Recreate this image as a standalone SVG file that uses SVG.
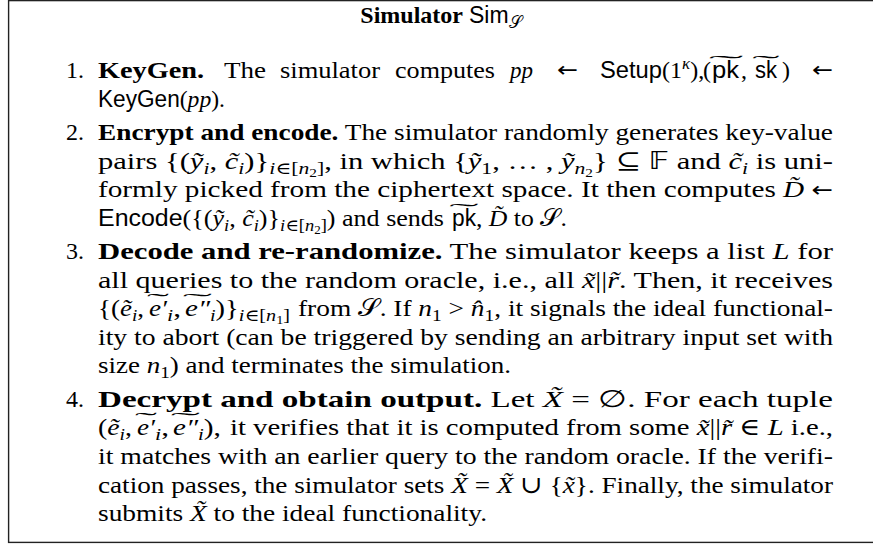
<svg xmlns="http://www.w3.org/2000/svg" width="873" height="544" viewBox="0 0 873 544">
<style>
text{font-family:"Liberation Serif","DejaVu Serif",serif;font-size:24px;fill:#000}
.b{font-weight:bold;font-family:"Liberation Serif",serif}
.i{font-style:italic}
.s{font-family:"Liberation Sans","DejaVu Sans",sans-serif;font-size:23px;font-style:normal}
.m{font-family:"DejaVu Sans","Noto Sans",sans-serif;font-style:normal}
.ar{font-family:"DejaVu Sans",sans-serif;font-size:21px;font-style:normal}
.sub{font-size:17px}
.ss{font-size:12px}
.tl{text-anchor:middle;font-size:20px}
.lb{text-anchor:end}
</style>
<rect id="frame" x="8.6" y="0.6" width="900" height="541.8" fill="#fff" stroke="#222" stroke-width="1.4"/>
<g id="title"><text x="441" y="23" text-anchor="middle"><tspan class="b">Simulator</tspan> <tspan class="s">Sim</tspan><tspan class="sub m" dy="5">𝒮</tspan></text></g>
<g id="item1">
<text class="lb" x="84" y="78">1.</text>
<text class="b" x="98" y="78" textLength="106" lengthAdjust="spacingAndGlyphs">KeyGen.</text>
<text x="224" y="78" textLength="42" lengthAdjust="spacingAndGlyphs">The</text>
<text x="280" y="78" textLength="100" lengthAdjust="spacingAndGlyphs">simulator</text>
<text x="395" y="78" textLength="100" lengthAdjust="spacingAndGlyphs">computes</text>
<text class="i" x="510" y="78" textLength="23" lengthAdjust="spacingAndGlyphs">pp</text>
<text class="ar" x="557" y="77" textLength="21" lengthAdjust="spacingAndGlyphs">←</text>
<text class="s" x="600" y="78" textLength="62" lengthAdjust="spacingAndGlyphs">Setup</text>
<text x="662" y="78">(1<tspan class="sub i" dy="-9">κ</tspan><tspan dy="9">),</tspan></text>
<text x="703" y="78">(</text>
<text class="s" x="712" y="78" textLength="27" lengthAdjust="spacingAndGlyphs">pk</text>
<text x="741" y="78">,</text>
<text class="s" x="755" y="78" textLength="22" lengthAdjust="spacingAndGlyphs">sk</text>
<text x="782" y="78">)</text>
<text class="ar" x="812" y="77" textLength="21" lengthAdjust="spacingAndGlyphs">←</text>
<text class="tl" transform="translate(726,70) scale(5.2,1)">˜</text>
<text class="tl" transform="translate(766,70) scale(4.1,1)">˜</text>
<text x="98" y="106.6" textLength="127" lengthAdjust="spacingAndGlyphs"><tspan class="s">KeyGen</tspan>(<tspan class="i">pp</tspan>).</text>
</g>
<g id="item2">
<text class="lb" x="84" y="139.9">2.</text>
<text x="98" y="139.9" textLength="735" lengthAdjust="spacingAndGlyphs"><tspan class="b">Encrypt and encode.</tspan> The simulator randomly generates key-value</text>
<text x="98" y="168.5" textLength="735" lengthAdjust="spacingAndGlyphs">pairs {(<tspan class="i">ỹ</tspan><tspan class="sub i" dy="5">i</tspan><tspan dy="-5">, </tspan><tspan class="i">c̃</tspan><tspan class="sub i" dy="5">i</tspan><tspan dy="-5">)}</tspan><tspan class="sub" dy="5"><tspan class="i">i</tspan>∈[<tspan class="i">n</tspan><tspan class="ss" dy="3">2</tspan><tspan dy="-3">]</tspan></tspan><tspan dy="-5">, in which {</tspan><tspan class="i">ỹ</tspan><tspan class="sub" dy="5">1</tspan><tspan dy="-5">, … , </tspan><tspan class="i">ỹ</tspan><tspan class="sub i" dy="5">n</tspan><tspan class="ss" dy="3">2</tspan><tspan dy="-8">} ⊆ </tspan><tspan class="m">𝔽</tspan> and <tspan class="i">c̃</tspan><tspan class="sub i" dy="5">i</tspan><tspan dy="-5"> is uni-</tspan></text>
<text x="98" y="197.1" textLength="735" lengthAdjust="spacingAndGlyphs">formly picked from the ciphertext space. It then computes <tspan class="i">D̃</tspan> <tspan class="ar">←</tspan></text>
<text x="98" y="225.7" textLength="346" lengthAdjust="spacingAndGlyphs"><tspan class="s">Encode</tspan>({(<tspan class="i">ỹ</tspan><tspan class="sub i" dy="5">i</tspan><tspan dy="-5">, </tspan><tspan class="i">c̃</tspan><tspan class="sub i" dy="5">i</tspan><tspan dy="-5">)}</tspan><tspan class="sub" dy="5"><tspan class="i">i</tspan>∈[<tspan class="i">n</tspan><tspan class="ss" dy="3">2</tspan><tspan dy="-3">]</tspan></tspan><tspan dy="-5">) and sends</tspan></text>
<text class="s" x="452" y="225.7" textLength="24" lengthAdjust="spacingAndGlyphs">pk</text>
<text x="476" y="225.7" textLength="91" lengthAdjust="spacingAndGlyphs">, <tspan class="i">D̃</tspan> to <tspan class="m">𝒮</tspan>.</text>
<text class="tl" transform="translate(464,217.7) scale(4.4,1)">˜</text>
</g>
<g id="item3">
<text class="lb" x="84" y="259">3.</text>
<text x="98" y="259" textLength="735" lengthAdjust="spacingAndGlyphs"><tspan class="b">Decode and re-randomize.</tspan> The simulator keeps a list <tspan class="i">L</tspan> for</text>
<text x="98" y="287.6" textLength="735" lengthAdjust="spacingAndGlyphs">all queries to the random oracle, i.e., all <tspan class="i">x̃</tspan>||<tspan class="i">r̃</tspan>. Then, it receives</text>
<text x="98" y="316.2" textLength="46" lengthAdjust="spacingAndGlyphs">{(<tspan class="i">ẽ</tspan><tspan class="sub i" dy="5">i</tspan><tspan dy="-5">,</tspan></text>
<text class="i" x="149" y="316.2" textLength="18" lengthAdjust="spacingAndGlyphs">e′</text>
<text x="167" y="316.2" textLength="14" lengthAdjust="spacingAndGlyphs"><tspan class="sub i" dy="5">i</tspan><tspan dy="-5">,</tspan></text>
<text class="i" x="185" y="316.2" textLength="25" lengthAdjust="spacingAndGlyphs">e″</text>
<text x="210" y="316.2" textLength="80" lengthAdjust="spacingAndGlyphs"><tspan class="sub i" dy="5">i</tspan><tspan dy="-5">)}</tspan><tspan class="sub" dy="5"><tspan class="i">i</tspan>∈[<tspan class="i">n</tspan><tspan class="ss" dy="3">1</tspan><tspan dy="-3">]</tspan></tspan></text>
<text x="298" y="316.2" textLength="535" lengthAdjust="spacingAndGlyphs">from <tspan class="m">𝒮</tspan>. If <tspan class="i">n</tspan><tspan class="sub" dy="5">1</tspan><tspan dy="-5"> &gt; </tspan><tspan class="i">n̂</tspan><tspan class="sub" dy="5">1</tspan><tspan dy="-5">, it signals the ideal functional-</tspan></text>
<text class="tl" transform="translate(158,308.2) scale(3.3,1)">˜</text>
<text class="tl" transform="translate(197.5,308.2) scale(4.4,1)">˜</text>
<text x="98" y="344.8" textLength="735" lengthAdjust="spacingAndGlyphs">ity to abort (can be triggered by sending an arbitrary input set with</text>
<text x="98" y="373.4" textLength="413" lengthAdjust="spacingAndGlyphs">size <tspan class="i">n</tspan><tspan class="sub" dy="5">1</tspan><tspan dy="-5">) and terminates the simulation.</tspan></text>
</g>
<g id="item4">
<text class="lb" x="84" y="406.7">4.</text>
<text x="98" y="406.7" textLength="735" lengthAdjust="spacingAndGlyphs"><tspan class="b">Decrypt and obtain output.</tspan> Let <tspan class="i">X̃</tspan> = ∅. For each tuple</text>
<text x="98" y="435.3" textLength="34" lengthAdjust="spacingAndGlyphs">(<tspan class="i">ẽ</tspan><tspan class="sub i" dy="5">i</tspan><tspan dy="-5">,</tspan></text>
<text class="i" x="137" y="435.3" textLength="18" lengthAdjust="spacingAndGlyphs">e′</text>
<text x="155" y="435.3" textLength="14" lengthAdjust="spacingAndGlyphs"><tspan class="sub i" dy="5">i</tspan><tspan dy="-5">,</tspan></text>
<text class="i" x="173" y="435.3" textLength="25" lengthAdjust="spacingAndGlyphs">e″</text>
<text x="198" y="435.3" textLength="23" lengthAdjust="spacingAndGlyphs"><tspan class="sub i" dy="5">i</tspan><tspan dy="-5">),</tspan></text>
<text x="230" y="435.3" textLength="603" lengthAdjust="spacingAndGlyphs">it verifies that it is computed from some <tspan class="i">x̃</tspan>||<tspan class="i">r̃</tspan> ∈ <tspan class="i">L</tspan> i.e.,</text>
<text class="tl" transform="translate(146,427.3) scale(3.3,1)">˜</text>
<text class="tl" transform="translate(185.5,427.3) scale(4.4,1)">˜</text>
<text x="98" y="463.9" textLength="735" lengthAdjust="spacingAndGlyphs">it matches with an earlier query to the random oracle. If the verifi-</text>
<text x="98" y="492.5" textLength="735" lengthAdjust="spacingAndGlyphs">cation passes, the simulator sets <tspan class="i">X̃</tspan> = <tspan class="i">X̃</tspan> ∪ {<tspan class="i">x̃</tspan>}. Finally, the simulator</text>
<text x="98" y="521.1" textLength="389" lengthAdjust="spacingAndGlyphs">submits <tspan class="i">X̃</tspan> to the ideal functionality.</text>
</g>
</svg>
